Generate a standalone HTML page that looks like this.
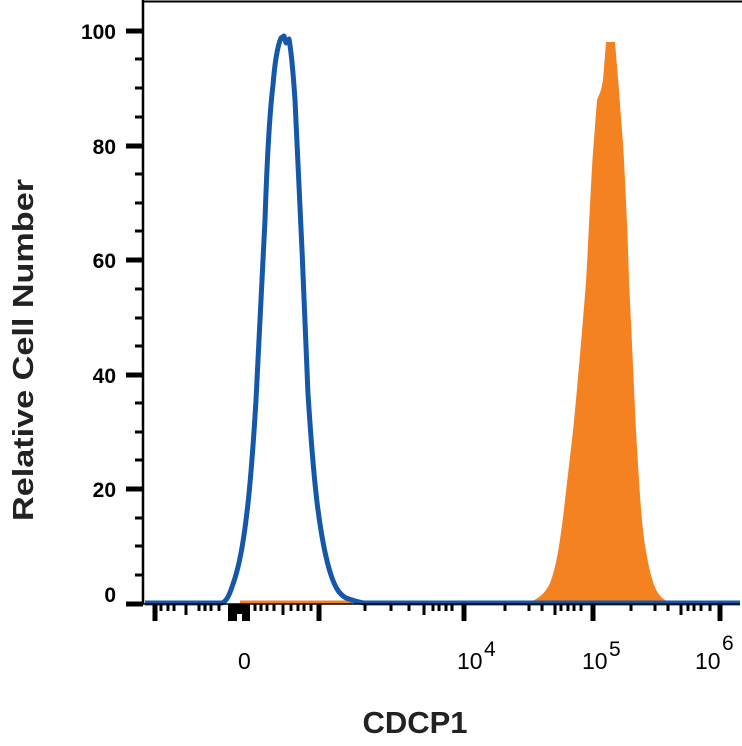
<!DOCTYPE html>
<html><head><style>html,body{margin:0;padding:0;background:#fff}svg{display:block}</style></head>
<body>
<svg width="742" height="746" viewBox="0 0 742 746" xmlns="http://www.w3.org/2000/svg" font-family="Liberation Sans, sans-serif">
<rect width="742" height="746" fill="#fff"/>
<!-- orange filled -->
<path d="M145,603 L527,603 C537,600 545,594 550,583 C556,568 560,545 565,500 L573,431 C579,370 583,320 586,282 C589,230 591,180 593,152 L597,100 L601,90 L603,80 L606,42 L615,42 L619,90 C621,120 623,140 624,160 C626,200 628,240 629,282 C632,340 634,390 636,431 C639,480 641,520 645,545 C649,570 653,585 658,593 C662,599 667,602 673,603 L740,603 Z" fill="#f58220"/>
<line x1="240" y1="602" x2="352" y2="602" stroke="#f58220" stroke-width="3"/>
<!-- blue line -->
<path d="M145,603 L222,603 C228,601 231,590 235,578 C239,565 243,545 246,520 C250,490 253,450 256,400 C259,340 262,280 265,220 C267,160 270,110 273,85 C275,60 278,45 281,38 L284,36 L286,43 L289,39 C291,50 293,70 295,100 C297,150 300,200 302,250 C304,300 306,350 308,394 C311,440 314,480 318,510 C322,540 326,560 331,575 C335,587 339,594 346,598 C352,600 357,602 364,603 L740,603" fill="none" stroke="#1557a8" stroke-width="5" stroke-linejoin="round"/>
<!-- axes -->
<line x1="143" y1="0" x2="143" y2="605" stroke="#000" stroke-width="2.5"/>
<line x1="143" y1="1.5" x2="742" y2="1.5" stroke="#000" stroke-width="2"/>
<g stroke="#000">
<line x1="126" y1="31" x2="143" y2="31" stroke-width="5"/>
<line x1="126" y1="146" x2="143" y2="146" stroke-width="5"/>
<line x1="126" y1="260" x2="143" y2="260" stroke-width="5"/>
<line x1="126" y1="375" x2="143" y2="375" stroke-width="5"/>
<line x1="126" y1="489" x2="143" y2="489" stroke-width="5"/>
<line x1="126" y1="604" x2="143" y2="604" stroke-width="5"/>
<g stroke-width="3">
<line x1="135" y1="59" x2="143" y2="59"/><line x1="135" y1="88" x2="143" y2="88"/><line x1="135" y1="117" x2="143" y2="117"/>
<line x1="135" y1="174" x2="143" y2="174"/><line x1="135" y1="203" x2="143" y2="203"/><line x1="135" y1="231" x2="143" y2="231"/>
<line x1="135" y1="289" x2="143" y2="289"/><line x1="135" y1="318" x2="143" y2="318"/><line x1="135" y1="346" x2="143" y2="346"/>
<line x1="135" y1="403" x2="143" y2="403"/><line x1="135" y1="432" x2="143" y2="432"/><line x1="135" y1="460" x2="143" y2="460"/>
<line x1="135" y1="518" x2="143" y2="518"/><line x1="135" y1="546" x2="143" y2="546"/><line x1="135" y1="575" x2="143" y2="575"/>
</g>
</g>
<line x1="143" y1="604" x2="740" y2="604" stroke="#000" stroke-width="1.5"/>
<g stroke="#000" stroke-width="5">
<line x1="155" y1="604" x2="155" y2="621"/>
<line x1="319" y1="604" x2="319" y2="621"/>
<line x1="464" y1="604" x2="464" y2="621"/>
<line x1="593" y1="604" x2="593" y2="621"/>
<line x1="720" y1="604" x2="720" y2="621"/>
</g>
<rect x="228" y="604" width="22" height="17" fill="#000"/>
<rect x="237" y="614" width="5" height="7" fill="#fff"/>
<g stroke="#000" stroke-width="3">
<line x1="161" y1="604" x2="161" y2="611"/><line x1="168" y1="604" x2="168" y2="611"/><line x1="174" y1="604" x2="174" y2="611"/><line x1="186" y1="604" x2="186" y2="615"/><line x1="199" y1="604" x2="199" y2="611"/><line x1="205" y1="604" x2="205" y2="611"/><line x1="211" y1="604" x2="211" y2="611"/><line x1="219" y1="604" x2="219" y2="611"/>
<line x1="255" y1="604" x2="255" y2="611"/><line x1="261" y1="604" x2="261" y2="611"/><line x1="267" y1="604" x2="267" y2="611"/><line x1="274" y1="604" x2="274" y2="611"/><line x1="283" y1="604" x2="283" y2="615"/><line x1="291" y1="604" x2="291" y2="611"/><line x1="298" y1="604" x2="298" y2="611"/><line x1="304" y1="604" x2="304" y2="611"/><line x1="311" y1="604" x2="311" y2="611"/>
<line x1="365" y1="604" x2="365" y2="611"/><line x1="391" y1="604" x2="391" y2="611"/><line x1="409" y1="604" x2="409" y2="611"/><line x1="424" y1="604" x2="424" y2="615"/><line x1="433" y1="604" x2="433" y2="611"/><line x1="439" y1="604" x2="439" y2="611"/><line x1="446" y1="604" x2="446" y2="611"/><line x1="452" y1="604" x2="452" y2="611"/>
<line x1="505" y1="604" x2="505" y2="611"/><line x1="529" y1="604" x2="529" y2="611"/><line x1="542" y1="604" x2="542" y2="611"/><line x1="555" y1="604" x2="555" y2="615"/><line x1="561" y1="604" x2="561" y2="611"/><line x1="568" y1="604" x2="568" y2="611"/><line x1="574" y1="604" x2="574" y2="611"/><line x1="581" y1="604" x2="581" y2="611"/>
<line x1="631" y1="604" x2="631" y2="611"/><line x1="655" y1="604" x2="655" y2="611"/><line x1="668" y1="604" x2="668" y2="611"/><line x1="681" y1="604" x2="681" y2="615"/><line x1="688" y1="604" x2="688" y2="611"/><line x1="694" y1="604" x2="694" y2="611"/><line x1="701" y1="604" x2="701" y2="611"/><line x1="710" y1="604" x2="710" y2="611"/>
</g>
<g font-size="21" fill="#000" text-anchor="end" font-weight="bold">
<text x="116" y="39">100</text><text x="116" y="154">80</text><text x="116" y="268">60</text><text x="116" y="383">40</text><text x="116" y="497">20</text><text x="116" y="602">0</text>
</g>
<g font-size="23" fill="#000">
<text x="238" y="669">0</text>
<text x="457" y="669">10</text><text x="484" y="656" font-size="21">4</text>
<text x="582" y="669">10</text><text x="609" y="656" font-size="21">5</text>
<text x="695" y="669">10</text><text x="722" y="650" font-size="21">6</text>
</g>
<text x="415" y="733" font-size="31" font-weight="bold" text-anchor="middle" fill="#222">CDCP1</text>
<text transform="translate(33,350) rotate(-90)" font-size="29" font-weight="bold" text-anchor="middle" fill="#222" textLength="342" lengthAdjust="spacingAndGlyphs">Relative Cell Number</text>
</svg>
</body></html>
